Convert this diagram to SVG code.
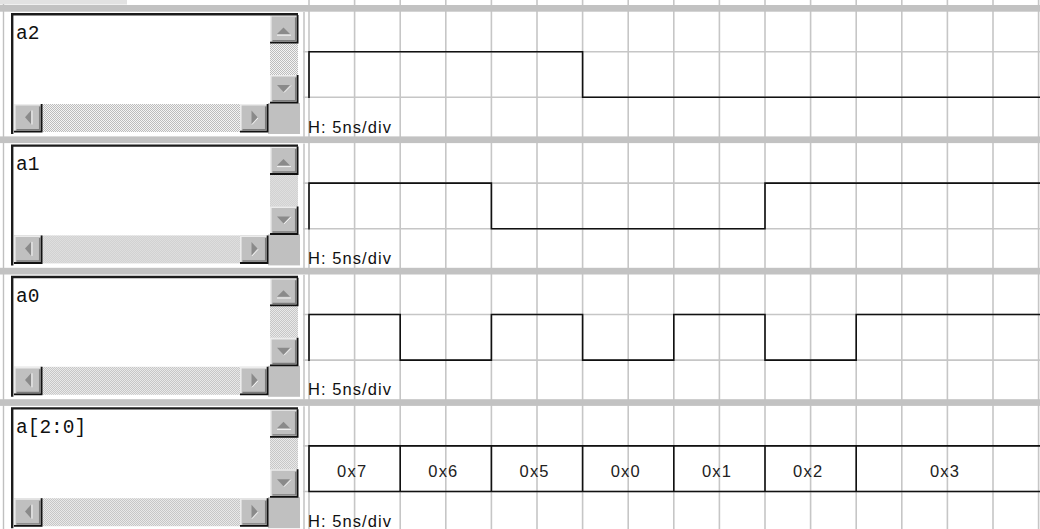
<svg xmlns="http://www.w3.org/2000/svg" xmlns:xlink="http://www.w3.org/1999/xlink" width="1040" height="529" viewBox="0 0 1040 529">
<style>
.grid{stroke:#c6c6c6;stroke-width:1.6;fill:none}
.band{fill:#c2c2c2}
.sig{stroke:#111;stroke-width:1.6;fill:none;stroke-linecap:square}
.lbl{font-family:"Liberation Mono","Courier New",monospace;font-size:19.5px;fill:#111}
.hdiv{font-family:"Liberation Sans",Arial,sans-serif;font-size:16.5px;fill:#111}
.bus{font-family:"Liberation Sans",Arial,sans-serif;font-size:16.5px;fill:#222;text-anchor:middle}
.arr{fill:#8a8a8a}
</style>
<defs>
<pattern id="dots" width="2" height="2" patternUnits="userSpaceOnUse">
<rect width="2" height="2" fill="#f4f4f4"/>
<rect width="1" height="1" fill="#bcbcbc"/>
<rect x="1" y="1" width="1" height="1" fill="#bcbcbc"/>
</pattern>
<g id="btn">
<rect x="0" y="0" width="28" height="28" fill="#c0c0c0"/>
<path d="M0.8,27 V0.8 H27" stroke="#ececec" stroke-width="1.6" fill="none"/>
<path d="M2.5,25.6 H25.6 V2.5" stroke="#7c7c7c" stroke-width="1.3" fill="none"/>
<path d="M0,27.6 H27.6 V0" stroke="#111" stroke-width="1.8" fill="none"/>
</g>
<g id="panel">
<rect x="11" y="13" width="289" height="121" fill="#ffffff"/>
<rect x="268" y="103" width="32" height="31" fill="#c0c0c0"/>
<rect x="270" y="43" width="28" height="32" fill="url(#dots)"/>
<rect x="42" y="104" width="198" height="28" fill="url(#dots)"/>
<use xlink:href="#btn" transform="translate(270,15)"/>
<use xlink:href="#btn" transform="translate(270,75)"/>
<use xlink:href="#btn" transform="translate(14,104)"/>
<use xlink:href="#btn" transform="translate(240,104)"/>
<path d="M12.2,134 V14.2 H298" stroke="#1c1c1c" stroke-width="2.4" fill="none"/>
<polygon class="arr" points="277,34 290,34 283.5,27.5"/>
<line x1="277" y1="35.2" x2="291" y2="35.2" stroke="#f4f4f4" stroke-width="1"/>
<polygon class="arr" points="277,85 290,85 283.5,92"/>
<line x1="284" y1="92.5" x2="291" y2="85.5" stroke="#f4f4f4" stroke-width="1"/>
<polygon class="arr" points="31,110.5 31,124 25,117.2"/>
<line x1="32" y1="110.5" x2="32" y2="124.5" stroke="#f4f4f4" stroke-width="1"/>
<polygon class="arr" points="251.5,110.5 251.5,124 257.5,117.2"/>
<line x1="252" y1="124.5" x2="258" y2="118" stroke="#f4f4f4" stroke-width="1"/>
<line x1="304" y1="12" x2="304" y2="137" class="grid"/>
<line x1="303" y1="51.7" x2="1040" y2="51.7" class="grid"/>
<line x1="303" y1="97.3" x2="1040" y2="97.3" class="grid"/>
</g>
</defs>
<rect width="1040" height="529" fill="#ffffff"/>
<rect x="0" y="0" width="127" height="4.5" fill="#e2e2e2"/>
<g id="grid-verticals" class="grid">
<line x1="309" y1="0" x2="309" y2="529"/>
<line x1="354.6" y1="0" x2="354.6" y2="529"/>
<line x1="400.2" y1="0" x2="400.2" y2="529"/>
<line x1="445.8" y1="0" x2="445.8" y2="529"/>
<line x1="491.4" y1="0" x2="491.4" y2="529"/>
<line x1="537" y1="0" x2="537" y2="529"/>
<line x1="582.6" y1="0" x2="582.6" y2="529"/>
<line x1="628.2" y1="0" x2="628.2" y2="529"/>
<line x1="673.8" y1="0" x2="673.8" y2="529"/>
<line x1="719.4" y1="0" x2="719.4" y2="529"/>
<line x1="765" y1="0" x2="765" y2="529"/>
<line x1="810.6" y1="0" x2="810.6" y2="529"/>
<line x1="856.2" y1="0" x2="856.2" y2="529"/>
<line x1="901.8" y1="0" x2="901.8" y2="529"/>
<line x1="947.4" y1="0" x2="947.4" y2="529"/>
<line x1="993" y1="0" x2="993" y2="529"/>
<line x1="1038.6" y1="0" x2="1038.6" y2="529"/>
</g>
<line x1="3.5" y1="4" x2="3.5" y2="529" stroke="#c0c0c0" stroke-width="1.4"/>
<g id="bands">
<rect class="band" x="0" y="5" width="1040" height="6.7"/>
<rect class="band" x="0" y="136.4" width="1040" height="6.7"/>
<rect class="band" x="0" y="267.8" width="1040" height="6.7"/>
<rect class="band" x="0" y="399.2" width="1040" height="6.7"/>
</g>
<g id="row-a2">
<use xlink:href="#panel"/>
<text class="lbl" x="16" y="39">a2</text>
<text class="hdiv" x="308" y="132.5" textLength="83" lengthAdjust="spacing">H: 5ns/div</text>
</g>
<g id="row-a1" transform="translate(0,131.4)">
<use xlink:href="#panel"/>
<text class="lbl" x="16" y="39">a1</text>
<text class="hdiv" x="308" y="132.5" textLength="83" lengthAdjust="spacing">H: 5ns/div</text>
</g>
<g id="row-a0" transform="translate(0,262.8)">
<use xlink:href="#panel"/>
<text class="lbl" x="16" y="39">a0</text>
<text class="hdiv" x="308" y="132.5" textLength="83" lengthAdjust="spacing">H: 5ns/div</text>
</g>
<g id="row-bus" transform="translate(0,394.2)">
<use xlink:href="#panel"/>
<text class="lbl" x="16" y="39">a[2:0]</text>
<text class="hdiv" x="308" y="132.5" textLength="83" lengthAdjust="spacing">H: 5ns/div</text>
</g>
<g id="connectors">
<path class="sig" d="M309,97.3 V51.7 H582.6 V97.3 H1040"/>
<path class="sig" transform="translate(0,131.4)" d="M309,97.3 V51.7 H491.4 V97.3 H765 V51.7 H1040"/>
<path class="sig" transform="translate(0,262.8)" d="M309,97.3 V51.7 H400.2 V97.3 H491.4 V51.7 H582.6 V97.3 H673.8 V51.7 H765 V97.3 H856.2 V51.7 H1040"/>
<path class="sig" transform="translate(0,394.2)" d="M309,51.7 H1040 M309,97.3 H1040 M309,51.7 V97.3 M400.2,51.7 V97.3 M491.4,51.7 V97.3 M582.6,51.7 V97.3 M673.8,51.7 V97.3 M765,51.7 V97.3 M856.2,51.7 V97.3"/>
</g>
<g id="bus-values">
<text class="bus" x="351.6" y="476.5" textLength="29" lengthAdjust="spacing">0x7</text>
<text class="bus" x="442.8" y="476.5" textLength="29" lengthAdjust="spacing">0x6</text>
<text class="bus" x="534" y="476.5" textLength="29" lengthAdjust="spacing">0x5</text>
<text class="bus" x="625.2" y="476.5" textLength="29" lengthAdjust="spacing">0x0</text>
<text class="bus" x="716.4" y="476.5" textLength="29" lengthAdjust="spacing">0x1</text>
<text class="bus" x="807.6" y="476.5" textLength="29" lengthAdjust="spacing">0x2</text>
<text class="bus" x="944.4" y="476.5" textLength="29" lengthAdjust="spacing">0x3</text>
</g>
</svg>
